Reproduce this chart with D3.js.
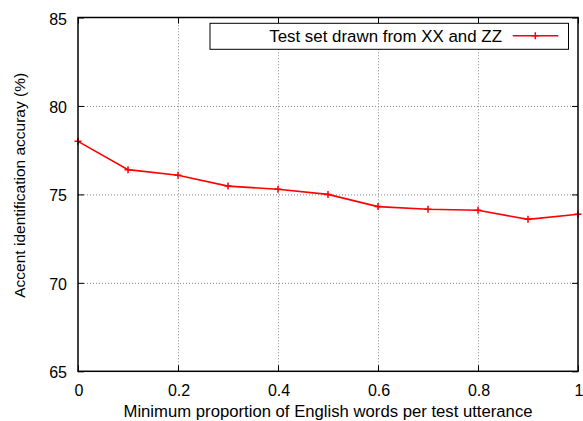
<!DOCTYPE html>
<html>
<head>
<meta charset="utf-8">
<script src="https://cdn.jsdelivr.net/npm/d3@7"></script>
<style>
  html, body { margin: 0; padding: 0; background: #fff; }
  text { font-family: "Liberation Sans", Arial, sans-serif; fill: #000; }
</style>
</head>
<body>
<svg id="chart" width="583" height="421"></svg>
<script>
const proportions = [0, 0.1, 0.2, 0.3, 0.4, 0.5, 0.6, 0.7, 0.8, 0.9, 1.0];
const accuracy = [78.0, 76.4, 76.08, 75.47, 75.29, 75.0, 74.31, 74.16, 74.1, 73.59, 73.88];
const xTicks = [0, 0.2, 0.4, 0.6, 0.8, 1];
const xTickLabels = ["0", "0.2", "0.4", "0.6", "0.8", "1"];
const yTicks = [65, 70, 75, 80, 85];
const seriesName = "Test set drawn from XX and ZZ";
const xTitle = "Minimum proportion of English words per test utterance";
const yTitle = "Accent identification accuray (%)";

const svg = d3.select("#chart");
const L = 78, R = 578, T = 17.5, B = 371.3;
const x = d3.scaleLinear().domain([0, 1]).range([L, R]);
const y = d3.scaleLinear().domain([65, 85]).range([B, T]);

// grid (dotted)
const grid = svg.append("g");
grid.append("g").attr("transform", `translate(0,${B})`)
  .call(d3.axisBottom(x).tickValues(xTicks.filter(d => d > 0 && d < 1)).tickSize(-(B - T)).tickFormat(""))
  .call(g => g.select(".domain").remove())
  .call(g => g.selectAll("line").attr("stroke", "#888").attr("stroke-width", 1).attr("stroke-dasharray", "1,2"));
grid.append("g").attr("transform", `translate(${L},0)`)
  .call(d3.axisLeft(y).tickValues(yTicks.filter(d => d > 65 && d < 85)).tickSize(-(R - L)).tickFormat(""))
  .call(g => g.select(".domain").remove())
  .call(g => g.selectAll("line").attr("stroke", "#888").attr("stroke-width", 1).attr("stroke-dasharray", "1,2"));

// inward ticks on all sides
const tk = 6;
const ticks = svg.append("g");
ticks.append("g").attr("transform", `translate(0,${B})`)
  .call(d3.axisBottom(x).tickValues(xTicks).tickSize(-tk).tickFormat(""))
  .call(g => g.select(".domain").remove());
ticks.append("g").attr("transform", `translate(0,${T})`)
  .call(d3.axisTop(x).tickValues(xTicks).tickSize(-tk).tickFormat(""))
  .call(g => g.select(".domain").remove());
ticks.append("g").attr("transform", `translate(${L},0)`)
  .call(d3.axisLeft(y).tickValues(yTicks).tickSize(-tk).tickFormat(""))
  .call(g => g.select(".domain").remove());
ticks.append("g").attr("transform", `translate(${R},0)`)
  .call(d3.axisRight(y).tickValues(yTicks).tickSize(-tk).tickFormat(""))
  .call(g => g.select(".domain").remove());
ticks.selectAll("line").attr("stroke", "#000").attr("stroke-width", 1);

// tick labels
svg.append("g").selectAll("text").data(xTicks).join("text")
  .attr("x", d => x(d) + 1).attr("y", B + 24.5)
  .attr("text-anchor", "middle").attr("font-size", 16)
  .text((d, i) => xTickLabels[i]);
svg.append("g").selectAll("text").data(yTicks).join("text")
  .attr("x", L - 11).attr("y", d => y(d) + 7)
  .attr("text-anchor", "end").attr("font-size", 16)
  .text(d => d);

// legend
const lg = svg.append("g");
lg.append("rect").attr("x", 210).attr("y", 23.3).attr("width", 358.5).attr("height", 26)
  .attr("fill", "#fff").attr("stroke", "#000").attr("stroke-width", 1);
lg.append("text").attr("x", 502).attr("y", 41.7).attr("text-anchor", "end")
  .attr("font-size", 16.9).text(seriesName);
lg.append("line").attr("x1", 512.7).attr("x2", 558.3).attr("y1", 35.7).attr("y2", 35.7)
  .attr("stroke", "red").attr("stroke-width", 1.5);
lg.append("path").attr("d", "M531.8,35.7h7M535.3,32.2v7").attr("stroke", "red").attr("stroke-width", 1.5);

// series line
const line = d3.line().x((d, i) => x(proportions[i])).y(d => y(d));
svg.append("path").datum(accuracy).attr("d", line)
  .attr("fill", "none").attr("stroke", "red").attr("stroke-width", 1.6);
svg.append("g").selectAll("path").data(accuracy).join("path")
  .attr("d", (d, i) => {
    const cx = x(proportions[i]), cy = y(d), s = 3.5;
    return `M${cx - s},${cy}h${2 * s}M${cx},${cy - s}v${2 * s}`;
  })
  .attr("stroke", "red").attr("stroke-width", 1.5);

// frame
svg.append("rect").attr("x", L).attr("y", T).attr("width", R - L).attr("height", B - T)
  .attr("fill", "none").attr("stroke", "#000").attr("stroke-width", 1.5);

// axis titles
svg.append("text").attr("x", (L + R) / 2).attr("y", 417).attr("text-anchor", "middle")
  .attr("font-size", 16.7).text(xTitle);
svg.append("text").attr("transform", `translate(25,${(73.3 + 297.3) / 2}) rotate(-90)`)
  .attr("text-anchor", "middle").attr("font-size", 15.5).text(yTitle);
</script>
</body>
</html>
